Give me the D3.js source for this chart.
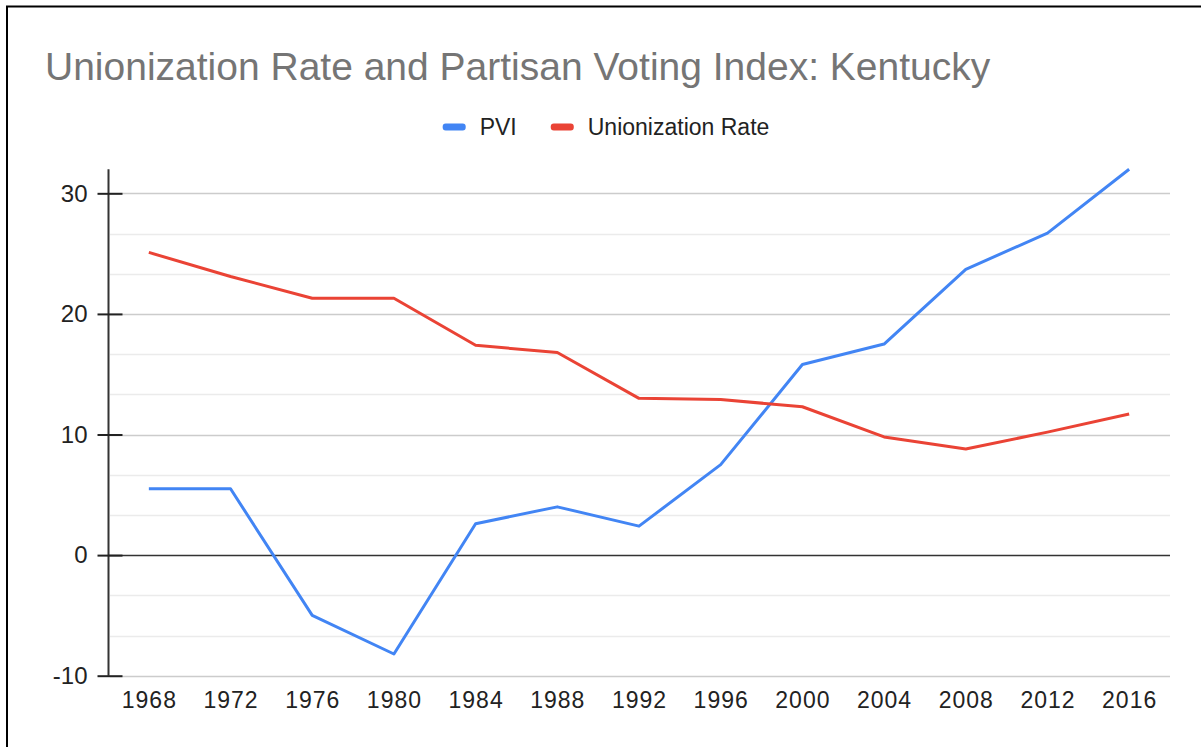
<!DOCTYPE html>
<html>
<head>
<meta charset="utf-8">
<script src="https://cdn.jsdelivr.net/npm/d3@7"></script>
<style>
  html, body { margin: 0; padding: 0; background: #fff; }
  svg { display: block; font-family: "Liberation Sans", Arial, sans-serif; }
</style>
</head>
<body>
<svg id="chart" width="1201" height="747"></svg>
<script>
var years = ["1968", "1972", "1976", "1980", "1984", "1988", "1992", "1996", "2000", "2004", "2008", "2012", "2016"];
var pvi = [5.5, 5.5, -5.0, -8.2, 2.6, 4.0, 2.4, 7.5, 15.8, 17.5, 23.7, 26.7, 32.0];
var unionRate = [25.1, 23.1, 21.3, 21.3, 17.4, 16.8, 13.0, 12.9, 12.3, 9.8, 8.8, 10.2, 11.7];
var yTicks = [-10, 0, 10, 20, 30];
var seriesNames = ["PVI", "Unionization Rate"];
var seriesColors = ["#4285f4", "#ea4335"];

var svg = d3.select("#chart");

// frame (only top and left edges are visible in the window)
svg.append("rect")
    .attr("x", 7).attr("y", 6.5)
    .attr("width", 1400).attr("height", 1000)
    .attr("fill", "none")
    .attr("stroke", "#000")
    .attr("stroke-width", 2);

svg.append("text")
    .attr("x", 45).attr("y", 80)
    .attr("fill", "#757575")
    .style("font-size", "39px")
    .text("Unionization Rate and Partisan Voting Index: Kentucky");

var x = d3.scalePoint().domain(years).range([108, 1170]).padding(0.5);
var y = d3.scaleLinear().domain([-10, 32]).range([675.7, 169.2]);

// minor gridlines every 10/3
var minor = d3.range(-10, 32, 10 / 3).filter(function(v) {
    return Math.abs(v - Math.round(v / 10) * 10) > 0.01;
});
svg.append("g").selectAll("line")
    .data(minor)
    .enter().append("line")
    .attr("x1", 110).attr("x2", 1170)
    .attr("y1", function(d) { return Math.round(y(d)) + 0.5; })
    .attr("y2", function(d) { return Math.round(y(d)) + 0.5; })
    .attr("stroke", "#ebebeb")
    .attr("stroke-width", 1.5);

svg.append("g").selectAll("line")
    .data(yTicks.filter(function(v) { return v !== 0; }))
    .enter().append("line")
    .attr("x1", 110).attr("x2", 1170)
    .attr("y1", function(d) { return Math.round(y(d)) + 0.5; })
    .attr("y2", function(d) { return Math.round(y(d)) + 0.5; })
    .attr("stroke", "#cccccc")
    .attr("stroke-width", 1.5);

// zero baseline
svg.append("line")
    .attr("x1", 108).attr("x2", 1170)
    .attr("y1", Math.round(y(0)) + 0.5).attr("y2", Math.round(y(0)) + 0.5)
    .attr("stroke", "#333")
    .attr("stroke-width", 1.5);

var yAxis = svg.append("g")
    .attr("transform", "translate(108.5,0)")
    .call(d3.axisLeft(y).tickValues(yTicks).tickFormat(function(d) { return String(d); })
        .tickSize(11).tickPadding(10).tickSizeOuter(0));
yAxis.select(".domain")
    .attr("d", "M0," + y(32) + "V" + y(-10))
    .attr("stroke", "#333")
    .attr("stroke-width", 2);
yAxis.selectAll(".tick line")
    .attr("x1", 14)
    .attr("stroke", "#222")
    .attr("stroke-width", 2);
yAxis.selectAll(".tick text")
    .attr("fill", "#222")
    .style("font-size", "24px")
    .style("font-family", "'Liberation Sans', Arial, sans-serif");

var xAxis = svg.append("g")
    .attr("transform", "translate(0," + y(-10) + ")")
    .call(d3.axisBottom(x).tickSize(0).tickPadding(16));
xAxis.select(".domain").remove();
xAxis.selectAll(".tick text")
    .attr("fill", "#222")
    .style("font-size", "23px")
    .style("letter-spacing", "1px")
    .style("font-family", "'Liberation Sans', Arial, sans-serif");

var line = d3.line()
    .x(function(d, i) { return x(years[i]); })
    .y(function(d) { return y(d); });

[pvi, unionRate].forEach(function(values, k) {
    svg.append("path")
        .datum(values)
        .attr("fill", "none")
        .attr("stroke", seriesColors[k])
        .attr("stroke-width", 3)
        .attr("stroke-linejoin", "round")
        .attr("d", line);
});

// legend
var legend = svg.append("g");
var cursor = 0;
seriesNames.forEach(function(name, i) {
    var item = legend.append("g").attr("transform", "translate(" + cursor + ",0)");
    item.append("rect")
        .attr("x", 0).attr("y", -3.5)
        .attr("width", 23).attr("height", 7)
        .attr("rx", 3)
        .attr("fill", seriesColors[i]);
    var t = item.append("text")
        .attr("x", 37).attr("y", 8)
        .attr("fill", "#222")
        .style("font-size", "23px")
        .text(name);
    cursor += 37 + t.node().getComputedTextLength() + 34;
});
var legendWidth = cursor - 34;
legend.attr("transform", "translate(" + (606 - legendWidth / 2) + ",127)");
</script>
</body>
</html>
